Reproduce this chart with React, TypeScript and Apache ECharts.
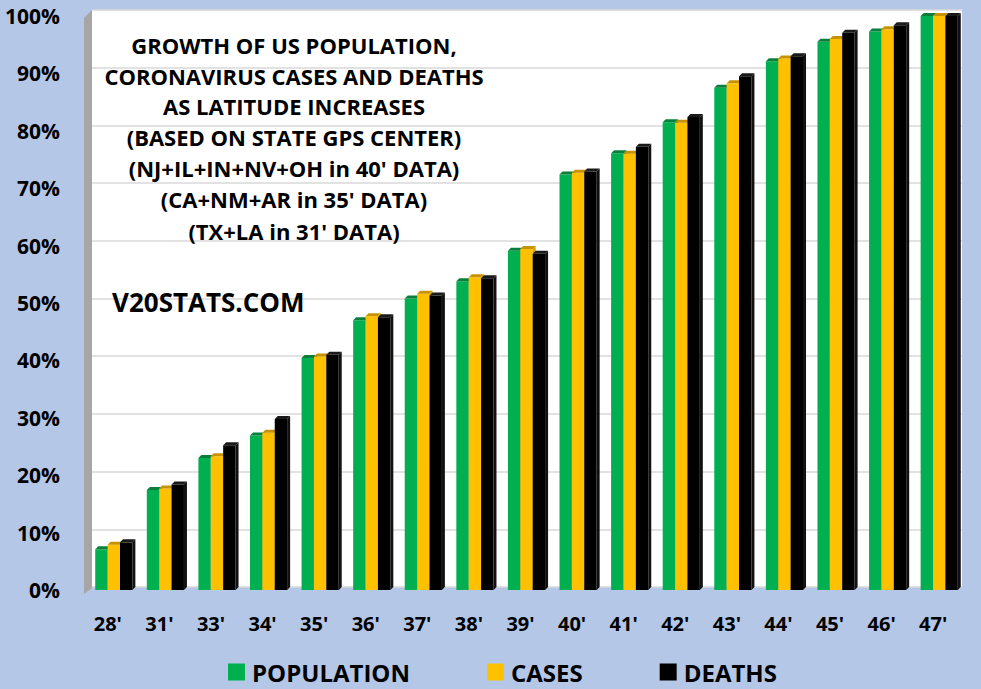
import * as echarts from "echarts";
import { useEffect, useRef } from "react";

const categories = ["28'", "31'", "33'", "34'", "35'", "36'", "37'", "38'", "39'", "40'", "41'", "42'", "43'", "44'", "45'", "46'", "47'"];
const population = [7.1, 17.4, 23.0, 26.9, 40.4, 47.0, 50.8, 53.8, 59.1, 72.4, 76.1, 81.5, 87.5, 92.1, 95.5, 97.3, 100];
const cases = [7.9, 17.7, 23.3, 27.4, 40.7, 47.7, 51.6, 54.5, 59.4, 72.7, 76.0, 81.4, 88.3, 92.6, 96.0, 97.7, 100];
const deaths = [8.3, 18.4, 25.2, 29.8, 41.0, 47.5, 51.3, 54.3, 58.6, 72.9, 77.2, 82.4, 89.5, 93.0, 97.1, 98.4, 100];

const titleLines = [
  "GROWTH OF US POPULATION,",
  "CORONAVIRUS CASES AND DEATHS",
  "AS LATITUDE INCREASES",
  "(BASED ON STATE GPS CENTER)",
  "(NJ+IL+IN+NV+OH in 40' DATA)",
  "(CA+NM+AR in 35' DATA)",
  "(TX+LA in 31' DATA)",
];

const FONT = "'Open Sans', 'Noto Sans', sans-serif";

const seriesDefs = [
  { name: "POPULATION", values: population, color: "#00B050", top: "#0A7F3C", side: "#08863D" },
  { name: "CASES", values: cases, color: "#FFC000", top: "#C79200", side: "#D9A300" },
  { name: "DEATHS", values: deaths, color: "#000000", top: "#1a1a1a", side: "#111111" },
];

function makeRenderItem(order: number, color: string, topColor: string, sideColor: string) {
  return (_params: any, api: any) => {
    const idx = api.value(0);
    const val = api.value(1);
    const top = api.coord([idx, val]);
    const base = api.coord([idx, 0]);
    const band = api.size([1, 0])[0];
    const w = (band * 0.72) / 3;
    const x0 = top[0] - 1.5 * w + order * w;
    const d = 3;
    return {
      type: "group",
      children: [
        { type: "rect", shape: { x: x0, y: top[1], width: w, height: base[1] - top[1] }, style: { fill: color } },
        {
          type: "polygon",
          shape: { points: [[x0, top[1]], [x0 + d, top[1] - d], [x0 + w + d, top[1] - d], [x0 + w, top[1]]] },
          style: { fill: topColor },
        },
        {
          type: "polygon",
          shape: { points: [[x0 + w, top[1]], [x0 + w + d, top[1] - d], [x0 + w + d, base[1] - d], [x0 + w, base[1]]] },
          style: { fill: sideColor },
        },
      ],
    };
  };
}

export default function App() {
  const ref = useRef<HTMLDivElement | null>(null);

  useEffect(() => {
    document.body.style.margin = "0";
    if (!ref.current) return;
    const chart = echarts.init(ref.current, null, { renderer: "svg" });
    const lineY = [45, 76, 106, 137, 168, 199, 231];
    chart.setOption({
      animation: false,
      backgroundColor: "#B4C7E7",
      grid: [
        { left: 92, right: 19, top: 10, bottom: 102, show: true, backgroundColor: "#ffffff", borderWidth: 0 },
        { left: 88, right: 16, top: 16, bottom: 99 },
      ],
      xAxis: [
        { gridIndex: 0, type: "category", data: categories, show: false },
        {
          gridIndex: 1,
          type: "category",
          data: categories,
          axisLine: { show: false },
          axisTick: { show: false },
          axisLabel: {
            interval: 0,
            margin: 23,
            padding: [0, 12, 0, 0],
            fontSize: 20,
            fontWeight: "bold",
            color: "#000",
            fontFamily: FONT,
          },
        },
      ],
      yAxis: [
        {
          gridIndex: 0,
          type: "value",
          min: 0,
          max: 100,
          interval: 10,
          axisLabel: { show: false },
          axisLine: { show: false },
          axisTick: { show: false },
          splitLine: { lineStyle: { color: "#D9D9D9", width: 1.5 } },
        },
        {
          gridIndex: 1,
          type: "value",
          min: 0,
          max: 100,
          interval: 10,
          axisLine: { show: false },
          axisTick: { show: false },
          splitLine: { show: false },
          axisLabel: {
            formatter: "{value}%",
            margin: 28,
            padding: [6, 0, 0, 0],
            fontSize: 21,
            fontWeight: "bold",
            color: "#000",
            fontFamily: FONT,
          },
        },
      ],
      legend: {
        left: 228,
        top: 660,
        padding: 0,
        icon: "rect",
        itemWidth: 17,
        itemHeight: 17,
        itemGap: 77,
        data: seriesDefs.map((s) => s.name),
        textStyle: {
          fontSize: 24,
          lineHeight: 22,
          fontWeight: "bold",
          color: "#000",
          fontFamily: FONT,
          padding: [0, 0, 0, 2],
        },
      },
      graphic: [
        {
          type: "polygon",
          shape: { points: [[84, 18], [92, 10], [92, 588], [84, 594]] },
          style: { fill: "#A6A6A6" },
          silent: true,
        },
        ...titleLines.map((t, i) => ({
          type: "text",
          x: 294,
          y: lineY[i],
          z: 100,
          style: {
            text: t,
            align: "center",
            verticalAlign: "middle",
            fontSize: 22,
            fontWeight: "bold",
            fontFamily: FONT,
            fill: "#000",
          },
        })),
        {
          type: "text",
          x: 112,
          y: 302,
          z: 100,
          style: {
            text: "V20STATS.COM",
            align: "left",
            verticalAlign: "middle",
            fontSize: 26,
            fontWeight: "bold",
            fontFamily: FONT,
            fill: "#000",
          },
        },
      ],
      series: seriesDefs.map((s, i) => ({
        name: s.name,
        type: "custom",
        xAxisIndex: 1,
        yAxisIndex: 1,
        itemStyle: { color: s.color },
        encode: { x: 0, y: 1 },
        data: s.values.map((v, k) => [k, v]),
        renderItem: makeRenderItem(i, s.color, s.top, s.side),
      })),
    });
    return () => chart.dispose();
  }, []);

  return <div ref={ref} style={{ width: 981, height: 689 }} />;
}
